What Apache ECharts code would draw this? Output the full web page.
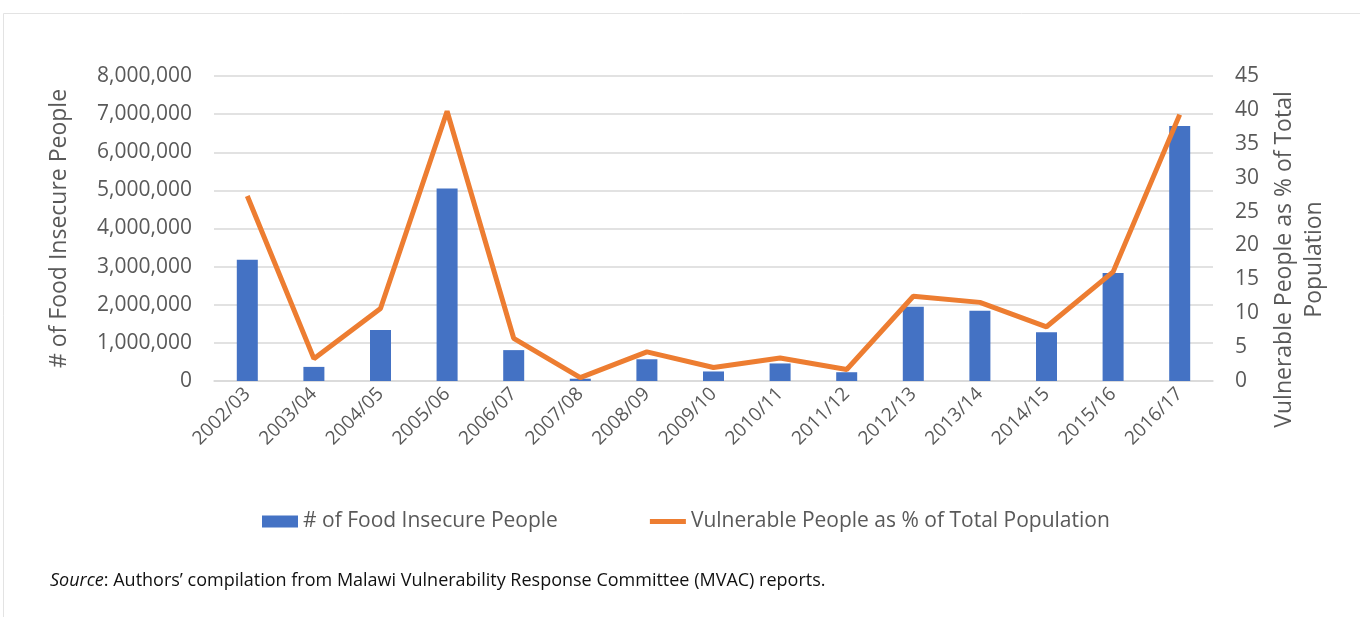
<!DOCTYPE html>
<html><head><meta charset="utf-8">
<script src="https://cdn.jsdelivr.net/npm/echarts@6/dist/echarts.min.js"></script>
<style>html,body{margin:0;padding:0;background:#fff}#c{width:1360px;height:617px}</style>
</head><body><div id="c"></div>
<script>
const categories = ['2002/03','2003/04','2004/05','2005/06','2006/07','2007/08','2008/09','2009/10','2010/11','2011/12','2012/13','2013/14','2014/15','2015/16','2016/17'];
const foodInsecure = [3180000,370000,1340000,5050000,810000,60000,570000,250000,460000,230000,1950000,1840000,1280000,2830000,6690000];
const vulnerablePct = [27.3,3.3,10.7,39.8,6.3,0.5,4.3,2.0,3.4,1.7,12.5,11.6,8.0,16.1,39.3];
const leftTicks = {min:0,max:8000000,interval:1000000};
const rightTicks = {min:0,max:45,interval:5};

const chart = echarts.init(document.getElementById('c'));
const txt = '#595959';
const ff = '"Open Sans", "Liberation Sans", sans-serif';
chart.setOption({
  animation:false,
  backgroundColor:'#fff',
  textStyle:{fontFamily:ff},
  grid:{left:214,right:147,top:76,bottom:236,containLabel:false},
  legend:{
    bottom:80,left:257,itemGap:92,itemWidth:36,itemHeight:12,
    textStyle:{color:txt,fontSize:21,fontFamily:ff},
    data:[{name:'# of Food Insecure People',icon:'rect'},
          {name:'Vulnerable People as % of Total Population',icon:'path://M0,0 L36,0 L36,5 L0,5 Z'}]
  },
  xAxis:{
    type:'category',data:categories,
    axisLine:{lineStyle:{color:'#d9d9d9',width:1.5}},
    axisTick:{show:false},
    axisLabel:{rotate:45,color:txt,fontSize:19,margin:10,interval:0,fontFamily:ff}
  },
  yAxis:[{
    type:'value',min:leftTicks.min,max:leftTicks.max,interval:leftTicks.interval,
    name:'# of Food Insecure People',nameLocation:'middle',nameGap:143,nameRotate:90,
    nameTextStyle:{color:txt,fontSize:23,fontFamily:ff},
    axisLine:{show:false},axisTick:{show:false},
    axisLabel:{color:txt,fontSize:21,margin:22,formatter:v=>v.toLocaleString('en-US'),fontFamily:ff},
    splitLine:{lineStyle:{color:'#d9d9d9',width:1.5}}
  },{
    type:'value',min:rightTicks.min,max:rightTicks.max,interval:rightTicks.interval,
    name:'Vulnerable People as % of Total\nPopulation',nameLocation:'middle',nameGap:56,nameRotate:90,
    nameTextStyle:{color:txt,fontSize:23,lineHeight:30,fontFamily:ff,verticalAlign:'top',padding:[0,62,0,0]},
    axisLine:{show:false},axisTick:{show:false},
    axisLabel:{color:txt,fontSize:21,margin:22,fontFamily:ff},
    splitLine:{show:false}
  }],
  series:[{
    name:'# of Food Insecure People',type:'bar',data:foodInsecure,yAxisIndex:0,
    barWidth:21,itemStyle:{color:'#4472C4'}
  },{
    name:'Vulnerable People as % of Total Population',type:'line',data:vulnerablePct,yAxisIndex:1,
    symbol:'none',lineStyle:{color:'#ED7D31',width:5},itemStyle:{color:'#ED7D31'}
  }],
  graphic:[{
    type:'rect',shape:{x:3.5,y:13.5,width:1400,height:700},silent:true,
    style:{fill:'none',stroke:'#e3e3e3',lineWidth:1}
  },{
    type:'text',left:50,top:572,
    style:{
      text:'{i|Source}{n|: Authors\u2019 compilation from Malawi Vulnerability Response Committee (MVAC) reports.}',
      rich:{
        i:{fontStyle:'italic',fontSize:18,fontFamily:ff,fill:'#111'},
        n:{fontSize:18,fontFamily:ff,fill:'#111'}
      }
    }
  }]
});
</script></body></html>
